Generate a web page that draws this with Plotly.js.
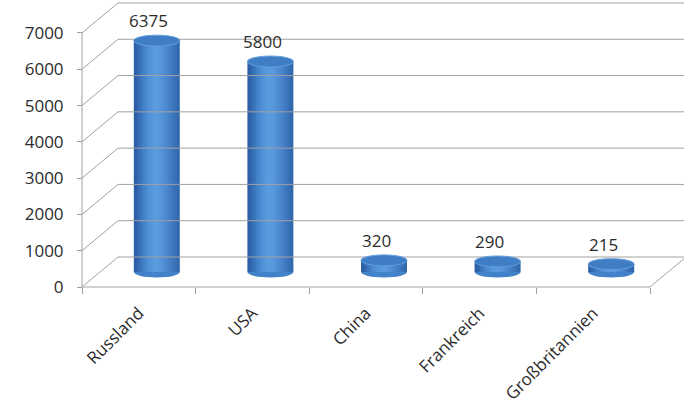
<!DOCTYPE html>
<html>
<head>
<meta charset="utf-8">
<script src="https://cdn.plot.ly/plotly-3.0.1.min.js"></script>
<style>html,body{margin:0;padding:0;background:#fff;}#chart{width:684px;height:406px;}</style>
</head>
<body>
<div id="chart"></div>
<script>
// ---- data ----
const categories = ["Russland", "USA", "China", "Frankreich", "Großbritannien"];
const values = [6375, 5800, 320, 290, 215];
const yTicks = [0, 1000, 2000, 3000, 4000, 5000, 6000, 7000];
const yTickLabels = ["0", "1000", "2000", "3000", "4000", "5000", "6000", "7000"];

// ---- geometry (pseudo 3D) ----
const W = 684, H = 406;
const ML = 70, MB = 110, MT = 0, MR = 0;
const pxPerCat = 113.6;           // px per category
const pxPerUnit = 36.29 / 1000;   // px per value unit
const zeroPx = 287;               // pixel row of value 0 (front)
const leftPad = 12;               // px between plot left edge and front axis
const depthX = 36 / pxPerCat;     // depth offset in category units
const depthY = 30 / pxPerUnit;    // depth offset in value units
const plotW = W - ML - MR, plotH = H - MT - MB;
const xMin = -0.5 - leftPad / pxPerCat, xMax = xMin + plotW / pxPerCat;
const yMin = -(H - MB - zeroPx) / pxPerUnit, yMax = yMin + plotH / pxPerUnit;
const n = categories.length;
const xs = categories.map((c, i) => i);
const frontL = -0.5, frontR = n - 0.5;

const gridColor = "#a0a0a0";
const textColor = "#2b2b2b";
const fontFam = "Open Sans";
const traces = [];
function line(xv, yv) {
  traces.push({type: "scatter", mode: "lines", x: xv, y: yv, hoverinfo: "skip",
    line: {color: gridColor, width: 1}, showlegend: false});
}
// back wall gridlines + left wall diagonals
yTicks.forEach(v => {
  line([frontL, frontL + depthX, xMax + 1], [v, v + depthY, v + depthY]);
});
// front vertical edge
line([frontL, frontL], [0, yTicks[yTicks.length - 1]]);
// floor front edge and right diagonal
line([frontL, frontR, frontR + depthX], [0, 0, depthY]);

// cylinder bodies as shaded strips (each strip overlaps the next to avoid seams)
const barW = 46 / pxPerCat;
const base = depthY / 2;
const stripColors = ["#2c5fa4", "#3369b1", "#3b75bd", "#4381c8", "#4a8bd1", "#5193d7",
                     "#5698db", "#599bdd", "#589adc", "#5595d9", "#508ed4", "#4a87ce",
                     "#447fc6", "#3e77bd", "#3870b5", "#3268ac"];
const N = stripColors.length;
const stripW = barW / N;
stripColors.forEach((col, k) => {
  const extra = k < N - 1 ? stripW * 0.6 : 0;
  traces.push({type: "bar", x: xs, y: values, base: xs.map(() => base),
    width: stripW + extra, offset: -barW / 2 + k * stripW + depthX / 2,
    marker: {color: col, line: {width: 0}}, hoverinfo: "skip", showlegend: false});
});

const ellH = 5.5 / pxPerUnit;
const shapes = [];
values.forEach((v, i) => {
  const cx = i + depthX / 2;
  shapes.push({type: "circle", xref: "x", yref: "y", layer: "below",
    x0: cx - barW / 2, x1: cx + barW / 2, y0: base - ellH, y1: base + ellH,
    fillcolor: "#4282c9", line: {width: 0}});
  shapes.push({type: "circle", xref: "x", yref: "y", layer: "above",
    x0: cx - barW / 2, x1: cx + barW / 2, y0: base + v - ellH, y1: base + v + ellH,
    fillcolor: "#3f7dc4", line: {color: "#66a0dc", width: 1}});
});

const annotations = values.map((v, i) => ({
  x: i + depthX / 2, y: base + v, xref: "x", yref: "y", text: String(v),
  showarrow: false, xshift: -8, yshift: 20, yanchor: "middle",
  font: {family: fontFam, size: 17, color: textColor}
}));

const layout = {
  width: W, height: H,
  margin: {l: ML, r: MR, t: MT, b: MB},
  paper_bgcolor: "#fff", plot_bgcolor: "#fff",
  barmode: "overlay", showlegend: false,
  font: {family: fontFam, size: 17, color: textColor},
  xaxis: {range: [xMin, xMax], anchor: "free", position: (0 - yMin) / (yMax - yMin),
    tickmode: "array", tickvals: xs, ticktext: categories, tickangle: -45,
    ticks: "", showgrid: false, zeroline: false, showline: false,
    ticklabelstandoff: 12,
    minor: {tickmode: "array", tickvals: [-0.5, 0.5, 1.5, 2.5, 3.5, 4.5], ticks: "outside",
      ticklen: 6, tickcolor: gridColor, showgrid: false},
    tickfont: {family: fontFam, size: 17, color: textColor}, fixedrange: true},
  yaxis: {range: [yMin, yMax], anchor: "free", position: leftPad / plotW,
    tickmode: "array", tickvals: yTicks, ticktext: yTickLabels,
    ticks: "outside", ticklen: 5, tickcolor: gridColor, showgrid: false,
    zeroline: false, showline: false, ticklabelstandoff: 10,
    tickfont: {family: fontFam, size: 17, color: textColor}, fixedrange: true},
  shapes: shapes, annotations: annotations
};

Plotly.newPlot("chart", traces, layout, {staticPlot: true, displayModeBar: false});
</script>
</body>
</html>
